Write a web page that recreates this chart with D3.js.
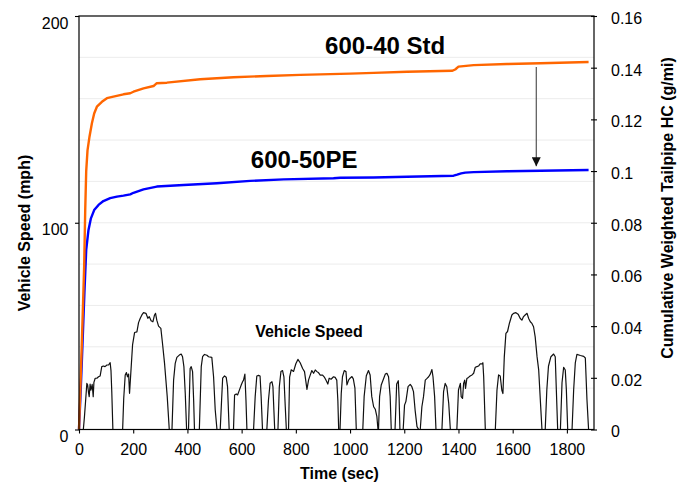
<!DOCTYPE html>
<html>
<head>
<meta charset="utf-8">
<script src="https://cdn.jsdelivr.net/npm/d3@7"></script>
<style>
  html, body { margin: 0; padding: 0; background: #ffffff; }
  svg { display: block; font-family: "Liberation Sans", Arial, Helvetica, sans-serif; }
</style>
</head>
<body>
<svg id="chart" width="691" height="485"></svg>
<script>
// Drive-cycle vehicle speed trace: time (s) and speed (mph)
const speedTime = [
  0, 16, 20, 25, 29, 32, 35, 37.6, 41, 44, 48.7, 52.4, 55, 59.8, 66, 72, 78, 84, 90, 96, 103, 109, 115, 118, 121, 125,
  161, 165, 170.5, 175, 179, 183, 186.5, 192.6, 197.6, 205, 213.6, 219.7, 226, 232, 238, 247, 254, 259, 266, 272.6,
  278.7, 282.4, 287, 293.5, 302, 308, 315.6, 320.6, 325.5, 333,
  343, 349, 355, 361, 370, 377, 382, 387, 392, 397,
  404, 410, 414, 419, 423, 426,
  444, 451, 456, 463, 472, 478, 490, 496.5, 502.6, 509,
  521, 526, 530, 537, 543, 548, 554,
  570, 574, 580, 585, 591, 598.5, 603.5, 607, 612, 616, 619.5,
  644, 650, 656, 662.5, 668, 672, 677,
  693, 699, 705, 712, 715.5, 719, 722,
  734, 739, 745, 751, 756, 761, 765,
  773, 777, 783, 791.7, 800, 807.6, 816, 825, 832, 841, 847, 853, 859, 865.5, 871.6, 878, 884, 890, 898.7, 906,
  911, 918, 923, 930, 939, 945, 951, 955, 958,
  963, 967.5, 972, 978.6, 985, 988.5, 995, 1000, 1007, 1012, 1018, 1023,
  1047, 1052, 1060, 1068, 1074, 1080, 1087, 1093, 1099, 1103,
  1105, 1109, 1115, 1124, 1130, 1136, 1142, 1148, 1152,
  1166, 1172, 1178, 1181, 1184,
  1196, 1201, 1206, 1214, 1222, 1228, 1234, 1240, 1247, 1253,
  1259, 1265, 1271, 1277.5, 1284, 1290, 1296, 1302, 1306, 1312, 1317,
  1339, 1345, 1351, 1357, 1364, 1370,
  1394, 1400, 1407, 1410, 1415, 1419, 1423, 1426, 1431, 1437, 1443, 1450, 1456, 1462, 1468, 1474, 1480, 1487, 1490, 1493, 1499,
  1536, 1542, 1548, 1554, 1560, 1564, 1569, 1575, 1581, 1588, 1597, 1603, 1612, 1620, 1628, 1634, 1640, 1646, 1653,
  1659, 1665, 1671, 1677, 1683, 1690, 1696, 1702, 1708,
  1720, 1726, 1732, 1741, 1751, 1757, 1761, 1766,
  1776, 1782, 1788, 1794, 1798, 1803,
  1819, 1825, 1831, 1837, 1850, 1862, 1868, 1874, 1880
];
const speedMph = [
  0, 0, 6, 15, 22.3, 21.5, 18, 15.9, 22, 19, 21.8, 15.9, 22.8, 24.8, 24.8, 25.5, 25.9, 30.4, 30.7, 30.4, 31.2, 31.2, 32.3, 28.5, 18, 0,
  0, 15, 26.4, 27.5, 25.5, 26.8, 17.5, 30.4, 40.9, 46.9, 47.2, 51.7, 53.8, 55.4, 56.5, 56.2, 53.8, 54.6, 52.6, 52.1,
  55.4, 56.2, 52.9, 50, 48.9, 41.7, 32, 23.9, 15.9, 0,
  0, 23.9, 32, 34.9, 36, 36.5, 35.2, 30.4, 17.5, 0,
  0, 29.5, 30.4, 28, 14, 0,
  0, 30.4, 35.2, 36.3, 35.9, 35.2, 34.9, 25.5, 9.4, 0,
  0, 14, 24.8, 25.9, 25.3, 20.7, 0,
  0, 16.7, 17.2, 16.7, 18.8, 21.5, 23.1, 23.9, 26.8, 14.2, 0,
  0, 15.9, 25.9, 26.2, 25.9, 15.9, 0,
  0, 14.3, 22.4, 23.1, 20.7, 9.4, 0,
  0, 20.7, 28, 28.5, 25.5, 11, 0,
  0, 25.3, 28.9, 28.1, 31.8, 33.9, 32.3, 29.5, 28, 19.4, 24, 26.3, 28.5, 27.2, 28.8, 28, 27.4, 26.3, 26.3, 25.2,
  23.9, 22, 24.8, 24.3, 25.5, 25.2, 23.9, 14, 0,
  0, 17.4, 25.5, 28.5, 28, 21.6, 24, 24.8, 25.6, 24.5, 20, 0,
  0, 16, 26, 28.5, 26.4, 16, 11, 9.8, 6.2, 0,
  0, 15.9, 21.5, 24.7, 26.8, 27.2, 25.5, 15.9, 0,
  0, 22, 23.6, 15, 0,
  0, 11.8, 13.5, 20.7, 21.8, 20.7, 18.3, 9.4, 1.4, 0,
  0, 11, 15.9, 23.9, 24.7, 25.5, 26.8, 29, 25.5, 15.9, 0,
  0, 18.3, 22.3, 20.7, 12.7, 0,
  0, 19.1, 22.3, 15.9, 15, 22.3, 23.9, 19.9, 24.7, 25.2, 25.9, 26.4, 27.2, 30.1, 30.4, 30.7, 31.7, 31.7, 32.3, 25.5, 0,
  0, 19, 26.4, 25.9, 19, 17.4, 35, 46.5, 47.4, 51.4, 55.4, 56.2, 56.5, 55.8, 53.7, 52.9, 54.6, 55.4, 56.2,
  53.7, 52.1, 51.3, 49.7, 44.8, 35.1, 28.7, 14.2, 0,
  0, 19.3, 30.6, 35.2, 36.5, 35.2, 19.3, 0,
  0, 22.6, 30.1, 28.8, 19.3, 0,
  0, 19.3, 32.2, 36.3, 35.8, 35.4, 34.6, 14.5, 0
];

// Cumulative weighted tailpipe HC (g/mi), 600-40 standard catalyst
const stdTime = [0, 5, 10, 15, 19, 23, 26.6, 31.4, 38.7, 47.6, 56, 66, 84.5, 103, 127, 164, 189, 201, 238, 275, 287,
  324, 447, 570, 693, 816, 1001, 1087, 1210, 1376, 1388, 1400, 1456, 1579, 1702, 1880];
const stdHC = [0, 0.016, 0.032, 0.049, 0.063, 0.085, 0.1, 0.108, 0.1133, 0.1185, 0.1223, 0.1249, 0.1268, 0.1282, 0.1288,
  0.1297, 0.1301, 0.1307, 0.132, 0.1329, 0.134, 0.1342, 0.1355, 0.1363, 0.1368, 0.1372, 0.1377, 0.138, 0.1384, 0.1388,
  0.1393, 0.1404, 0.141, 0.1414, 0.1417, 0.1422];

// Cumulative weighted tailpipe HC (g/mi), 600-50PE catalyst
const peTime = [0, 5, 10, 15, 20, 26.6, 35, 44, 56, 72, 90, 115, 140, 164, 189, 201, 238, 287, 386, 509, 632, 755, 939,
  964, 1087, 1210, 1382, 1395, 1410, 1425, 1456, 1579, 1702, 1880];
const peHC = [0, 0.012, 0.025, 0.039, 0.053, 0.0695, 0.0772, 0.0817, 0.0849, 0.0869, 0.0884, 0.0895, 0.0901, 0.0905,
  0.091, 0.0916, 0.0929, 0.094, 0.0946, 0.0953, 0.0962, 0.0968, 0.0972, 0.0974, 0.0975, 0.0978, 0.0982, 0.0986, 0.0991,
  0.0994, 0.0996, 0.0999, 0.1001, 0.1004];

// Axis ticks
const timeTicks = [0, 200, 400, 600, 800, 1000, 1200, 1400, 1600, 1800];
const speedTicks = [0, 100, 200];
const speedGrid = [20, 40, 60, 80, 100, 120, 140, 160, 180];
const hcTicks = [0, 0.02, 0.04, 0.06, 0.08, 0.1, 0.12, 0.14, 0.16];

// Annotation text and anchor values
const stdLabel = "600-40 Std";
const peLabel = "600-50PE";
const speedLabel = "Vehicle Speed";
const arrowAt = 1687;

const svg = d3.select("#chart");
const plotL = 79, plotR = 594, plotT = 16, plotB = 429.5;

const x = d3.scaleLinear().domain([0, 1900]).range([plotL, plotR]);
const ySpeed = d3.scaleLinear().domain([0, 200]).range([plotB, plotT]);
const yHC = d3.scaleLinear().domain([0, 0.16]).range([plotB, plotT]);

// faint horizontal gridlines
svg.append("g").selectAll("line").data(speedGrid).join("line")
  .attr("x1", plotL).attr("x2", plotR)
  .attr("y1", d => ySpeed(d)).attr("y2", d => ySpeed(d))
  .attr("stroke", "#ececec").attr("stroke-width", 1);

// vehicle speed trace
const speedLine = d3.line()
  .x(i => x(speedTime[i]))
  .y(i => ySpeed(speedMph[i]));
svg.append("path")
  .attr("d", speedLine(d3.range(speedTime.length)))
  .attr("fill", "none").attr("stroke", "#111").attr("stroke-width", 1.2)
  .attr("stroke-linejoin", "round");

// cumulative HC curves
const hcLine = (t, v) => d3.line().x(i => x(t[i])).y(i => yHC(v[i]))(d3.range(t.length));
svg.append("path").attr("d", hcLine(peTime, peHC))
  .attr("fill", "none").attr("stroke", "#0000ff").attr("stroke-width", 2.4).attr("stroke-linejoin", "round");
svg.append("path").attr("d", hcLine(stdTime, stdHC))
  .attr("fill", "none").attr("stroke", "#ff6600").attr("stroke-width", 2.4).attr("stroke-linejoin", "round");

// arrow from the standard curve down to the PE curve
const stdAtArrow = d3.scaleLinear().domain(stdTime).range(stdHC)(arrowAt);
const peAtArrow = d3.scaleLinear().domain(peTime).range(peHC)(arrowAt);
svg.append("defs").append("marker")
  .attr("id", "head").attr("viewBox", "0 0 10 10")
  .attr("refX", 10).attr("refY", 5)
  .attr("markerWidth", 9).attr("markerHeight", 9).attr("markerUnits", "userSpaceOnUse")
  .attr("orient", "auto")
  .append("path").attr("d", "M0,0 L10,5 L0,10 Z").attr("fill", "#111");
svg.append("line")
  .attr("x1", x(arrowAt)).attr("x2", x(arrowAt))
  .attr("y1", yHC(stdAtArrow) + 3.5).attr("y2", yHC(peAtArrow) - 4.5)
  .attr("stroke", "#444").attr("stroke-width", 1.1)
  .attr("marker-end", "url(#head)");

// plot frame
svg.append("rect")
  .attr("x", plotL).attr("y", plotT).attr("width", plotR - plotL).attr("height", plotB - plotT)
  .attr("fill", "none").attr("stroke", "#000").attr("stroke-width", 1.2);

// left axis (speed)
const gL = svg.append("g").attr("transform", `translate(${plotL},0)`)
  .call(d3.axisLeft(ySpeed).tickValues(speedTicks).tickSize(4).tickSizeOuter(0).tickPadding(6.5));
gL.select(".domain").remove();
gL.selectAll("text").attr("dy", "0.75em").attr("font-size", 16).attr("fill", "#000");

// right axis (HC)
const gR = svg.append("g").attr("transform", `translate(${plotR},0)`)
  .call(d3.axisRight(yHC).tickValues(hcTicks).tickFormat(d => String(+d.toFixed(2)))
    .tickSize(3).tickSizeOuter(0).tickPadding(14));
gR.select(".domain").remove();
gR.selectAll(".tick line").attr("x1", -3);
gR.selectAll("text").attr("dy", "0.46em").attr("font-size", 16).attr("fill", "#000");

// bottom axis (time)
const gB = svg.append("g").attr("transform", `translate(0,${plotB})`)
  .call(d3.axisBottom(x).tickValues(timeTicks).tickFormat(d => String(d))
    .tickSize(4).tickSizeOuter(0).tickPadding(10));
gB.select(".domain").remove();
gB.selectAll("text").attr("font-size", 16).attr("fill", "#000");
svg.selectAll(".tick line").attr("stroke", "#000").attr("stroke-width", 1.1);

// axis titles
svg.append("text")
  .attr("transform", `translate(30,233) rotate(-90)`)
  .attr("text-anchor", "middle").attr("font-size", 16).attr("font-weight", "bold")
  .text("Vehicle Speed (mph)");
svg.append("text")
  .attr("transform", `translate(673,208) rotate(-90)`)
  .attr("text-anchor", "middle").attr("font-size", 16).attr("font-weight", "bold")
  .text("Cumulative Weighted Tailpipe HC (g/mi)");
svg.append("text")
  .attr("x", 339.5).attr("y", 479)
  .attr("text-anchor", "middle").attr("font-size", 16).attr("font-weight", "bold")
  .text("Time (sec)");

// series labels
svg.append("text")
  .attr("x", x(908)).attr("y", yHC(0.1453))
  .attr("font-size", 24).attr("font-weight", "bold").text(stdLabel);
svg.append("text")
  .attr("x", x(634)).attr("y", yHC(0.1011))
  .attr("font-size", 24).attr("font-weight", "bold").text(peLabel);
svg.append("text")
  .attr("x", x(650)).attr("y", ySpeed(44.7))
  .attr("font-size", 16).attr("font-weight", "bold").text(speedLabel);
</script>
</body>
</html>
